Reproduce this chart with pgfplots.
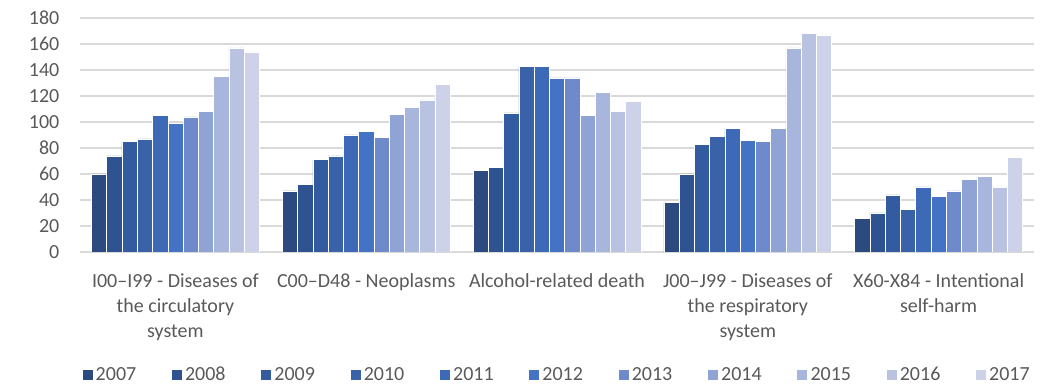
\documentclass[border=0pt]{standalone}
\usepackage{pgfplots}
\pgfplotsset{compat=1.18}
\usepackage{fontspec}
\setmainfont{Carlito}

\definecolor{txt}{HTML}{595959}
\definecolor{gridc}{HTML}{D9D9D9}
\definecolor{c07}{HTML}{2C4A80}
\definecolor{c08}{HTML}{2F5291}
\definecolor{c09}{HTML}{335BA0}
\definecolor{c10}{HTML}{3962A8}
\definecolor{c11}{HTML}{3E69B7}
\definecolor{c12}{HTML}{4472C4}
\definecolor{c13}{HTML}{6E8ACB}
\definecolor{c14}{HTML}{8FA3D5}
\definecolor{c15}{HTML}{A8B5DC}
\definecolor{c16}{HTML}{BAC2E1}
\definecolor{c17}{HTML}{CDD2E8}

\begin{document}
\begin{tikzpicture}
\path[use as bounding box] (-60pt,-99pt) rectangle (737.25pt,189pt);
\begin{axis}[
    at={(0,0)}, anchor=south west,
    scale only axis, width=715.5pt, height=175.5pt,
    ybar=0pt, bar width=0.08,
    xmin=-0.5, xmax=4.5, ymin=0, ymax=180,
    xtick={0,1,2,3,4},
    xticklabels={{I00–I99 - Diseases of\\the circulatory\\system},
                 {C00–D48 - Neoplasms},
                 {Alcohol-related death},
                 {J00–J99 - Diseases of\\the respiratory\\system},
                 {X60-X84 - Intentional\\self-harm}},
    ytick={0,20,...,180},
    ymajorgrids, grid style={draw=gridc, line width=1.1pt},
    axis line style={draw=none},
    major tick length=0pt,
    tick label style={font=\fontsize{15}{18.75}\selectfont, text=txt},
    /pgf/number format/assume math mode=true,
    yticklabel style={xshift=-12pt},
    xticklabel style={align=center, yshift=-12.5pt},
    legend columns=11,
    legend style={at={(0.5,-0.526)}, anchor=center, draw=none, fill=none,
        font=\fontsize{15}{18}\selectfont, text=txt,
        /tikz/every even column/.append style={column sep=24pt}},
    legend image code/.code={\fill[#1] (0pt,-4.1pt) rectangle (8.2pt,4.1pt);},
    every axis plot/.append style={draw=white, line width=0.4pt},
]
\addplot[fill=c07] coordinates {(0,60) (1,47) (2,63) (3,38) (4,26)};
\addplot[fill=c08] coordinates {(0,74) (1,52) (2,65) (3,60) (4,30)};
\addplot[fill=c09] coordinates {(0,85) (1,71) (2,107) (3,83) (4,44)};
\addplot[fill=c10] coordinates {(0,87) (1,74) (2,143) (3,89) (4,33)};
\addplot[fill=c11] coordinates {(0,105) (1,90) (2,143) (3,95) (4,50)};
\addplot[fill=c12] coordinates {(0,99) (1,93) (2,134) (3,86) (4,43)};
\addplot[fill=c13] coordinates {(0,104) (1,88) (2,134) (3,85) (4,47)};
\addplot[fill=c14] coordinates {(0,108) (1,106) (2,105) (3,95) (4,56)};
\addplot[fill=c15] coordinates {(0,135) (1,111) (2,123) (3,157) (4,58)};
\addplot[fill=c16] coordinates {(0,157) (1,117) (2,108) (3,168) (4,50)};
\addplot[fill=c17] coordinates {(0,154) (1,129) (2,116) (3,167) (4,73)};
\legend{2007,2008,2009,2010,2011,2012,2013,2014,2015,2016,2017}
\end{axis}
\end{tikzpicture}
\end{document}
